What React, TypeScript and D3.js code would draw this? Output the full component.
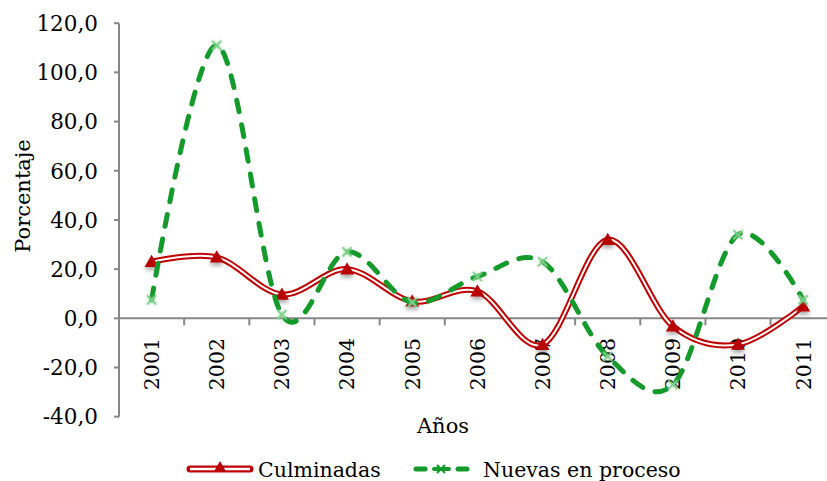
import React from "react";
import * as d3 from "d3";

const years = ["2001", "2002", "2003", "2004", "2005", "2006", "2007", "2008", "2009", "2010", "2011"];
const culminadas = [23.0, 24.8, 9.7, 20.0, 6.9, 11.0, -10.7, 32.0, -3.2, -10.6, 4.9];
const nuevas = [7.5, 111.0, 1.5, 27.0, 6.5, 17.0, 23.0, -15.5, -27.0, 34.0, 7.5];
const yTicks = [-40, -20, 0, 20, 40, 60, 80, 100, 120];
const seriesNames = ["Culminadas", "Nuevas en proceso"];

const W = 827;
const H = 481;
const FONT = "'DejaVu Serif', serif";
const RED = "#c00000";
const GREEN = "#149a2b";
const AXIS = "#878787";

const locale = d3.formatLocale({ decimal: ",", thousands: ".", grouping: [3], currency: ["", "€"], minus: "-" });
const fmt = locale.format(".1f");

export default function App() {
  const x = d3.scaleBand<string>().domain(years).range([119, 119 + 11 * 65.16]).padding(0);
  const cx = (d: string) => (x(d) as number) + x.bandwidth() / 2;
  const y = d3.scaleLinear().domain([-40, 120]).range([416.7, 23.2]);
  const line = d3
    .line<number>()
    .x((_, i) => cx(years[i]))
    .y((v) => y(v))
    .curve(d3.curveCardinal.tension(0));
  const redPath = line(culminadas) || "";
  const greenPath = line(nuevas) || "";
  const x0 = x.range()[0];
  const x1 = x.range()[1];
  const tri = (px: number, py: number, s = 7) =>
    `M${px},${py - s} L${px + s},${py + s * 0.75} L${px - s},${py + s * 0.75} Z`;
  const cross = (px: number, py: number, s = 4.5) =>
    `M${px - s},${py - s} L${px + s},${py + s} M${px - s},${py + s} L${px + s},${py - s}`;
  const legY = 469;

  return (
    <svg width={W} height={H} style={{ position: "absolute", left: 0, top: 0, background: "#fff" }}>
      <defs>
        <filter id="sh" x="-50%" y="-50%" width="200%" height="200%">
          <feDropShadow dx="0" dy="3" stdDeviation="2" floodColor="#000" floodOpacity="0.35" />
        </filter>
        <filter id="glow" x="-80%" y="-80%" width="260%" height="260%">
          <feGaussianBlur stdDeviation="1.5" in="SourceGraphic" result="b" />
          <feMerge>
            <feMergeNode in="b" />
            <feMergeNode in="SourceGraphic" />
          </feMerge>
        </filter>
      </defs>

      {/* Y axis */}
      <line x1={x0} x2={x0} y1={y(120)} y2={y(-40)} stroke={AXIS} strokeWidth={2} />
      {yTicks.map((t) => (
        <g key={t}>
          <line x1={x0 - 5} x2={x0} y1={y(t)} y2={y(t)} stroke={AXIS} strokeWidth={2} />
          <text x={98} y={y(t)} dy="0.36em" textAnchor="end" fontFamily={FONT} fontSize={21.5} fill="#000">
            {fmt(t)}
          </text>
        </g>
      ))}

      {/* X axis at zero */}
      <line x1={x0} x2={x1 + 5} y1={y(0)} y2={y(0)} stroke={AXIS} strokeWidth={2} />
      {years.map((yr, i) => (
        <line key={"t" + yr} x1={(x(yr) as number) + x.bandwidth()} x2={(x(yr) as number) + x.bandwidth()} y1={y(0)} y2={y(0) + 7} stroke={AXIS} strokeWidth={2} />
      ))}
      {years.map((yr) => (
        <text
          key={yr}
          transform={`translate(${cx(yr)},338) rotate(-90)`}
          textAnchor="end"
          dy="0.36em"
          fontFamily={FONT}
          fontSize={20.5}
          fill="#000"
        >
          {yr}
        </text>
      ))}

      {/* Axis titles */}
      <text transform="translate(22,196) rotate(-90)" textAnchor="middle" dy="0.36em" fontFamily={FONT} fontSize={21} fill="#000">
        Porcentaje
      </text>
      <text x={443} y={433} textAnchor="middle" fontFamily={FONT} fontSize={21} fill="#000">
        Años
      </text>

      {/* Culminadas series */}
      <path d={redPath} fill="none" stroke={RED} strokeWidth={6} />
      <path d={redPath} fill="none" stroke="#fff" strokeWidth={2} />
      {culminadas.map((v, i) => (
        <path key={"r" + i} d={tri(cx(years[i]), y(v))} fill="#b80000" filter="url(#sh)" />
      ))}

      {/* Nuevas series */}
      <path d={greenPath} fill="none" stroke={GREEN} strokeWidth={5} strokeDasharray="12 13" strokeLinecap="round" />
      {nuevas.map((v, i) => (
        <path key={"g" + i} d={cross(cx(years[i]), y(v))} fill="none" stroke="#7fcf8a" strokeWidth={1.6} filter="url(#glow)" />
      ))}

      {/* Legend */}
      <g>
        <line x1={190} x2={250} y1={legY} y2={legY} stroke={RED} strokeWidth={7} strokeLinecap="round" />
        <line x1={190} x2={250} y1={legY} y2={legY} stroke="#fff" strokeWidth={2.5} />
        <path d={tri(220, legY - 2, 6)} fill="#b80000" />
        <text x={258} y={477} fontFamily={FONT} fontSize={20.5} fill="#000">
          {seriesNames[0]}
        </text>
        <line x1={416} x2={425} y1={legY} y2={legY} stroke={GREEN} strokeWidth={5} strokeLinecap="round" />
        <line x1={458} x2={467} y1={legY} y2={legY} stroke={GREEN} strokeWidth={5} strokeLinecap="round" />
        <line x1={434} x2={449} y1={legY} y2={legY} stroke={GREEN} strokeWidth={4} strokeLinecap="round" />
        <path d={cross(441, legY, 4)} fill="none" stroke={GREEN} strokeWidth={2} />
        <text x={483} y={477} fontFamily={FONT} fontSize={20.5} fill="#000">
          {seriesNames[1]}
        </text>
      </g>
    </svg>
  );
}
